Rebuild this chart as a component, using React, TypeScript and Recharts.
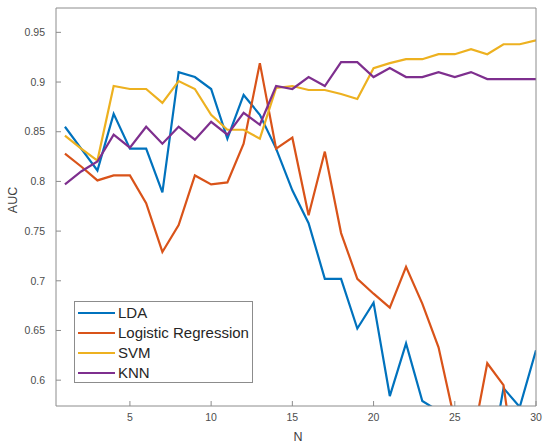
import React from 'react';
import { LineChart, Line, XAxis, YAxis, Legend } from 'recharts';

// N = number of features
const nValues = [1, 2, 3, 4, 5, 6, 7, 8, 9, 10, 11, 12, 13, 14, 15, 16, 17, 18, 19, 20, 21, 22, 23, 24, 25, 26, 27, 28, 29, 30];

const ldaAuc = [0.855, 0.833, 0.811, 0.868, 0.833, 0.833, 0.789, 0.91, 0.905, 0.893, 0.843, 0.887, 0.867, 0.833, 0.791, 0.758, 0.702, 0.702, 0.652, 0.678, 0.584, 0.637, 0.579, 0.569, 0.55, 0.53, 0.5, 0.592, 0.573, 0.63];
const logRegAuc = [0.828, 0.815, 0.801, 0.806, 0.806, 0.778, 0.729, 0.756, 0.806, 0.797, 0.799, 0.838, 0.919, 0.833, 0.844, 0.766, 0.83, 0.748, 0.702, 0.687, 0.673, 0.714, 0.677, 0.633, 0.559, 0.531, 0.617, 0.595, 0.48, 0.5];
const svmAuc = [0.846, 0.833, 0.821, 0.896, 0.893, 0.893, 0.879, 0.901, 0.893, 0.867, 0.852, 0.852, 0.843, 0.894, 0.896, 0.892, 0.892, 0.888, 0.883, 0.914, 0.919, 0.923, 0.923, 0.928, 0.928, 0.933, 0.928, 0.938, 0.938, 0.942];
const knnAuc = [0.797, 0.81, 0.82, 0.847, 0.834, 0.855, 0.838, 0.855, 0.842, 0.86, 0.847, 0.869, 0.857, 0.896, 0.893, 0.905, 0.896, 0.92, 0.92, 0.905, 0.914, 0.905, 0.905, 0.91, 0.905, 0.91, 0.903, 0.903, 0.903, 0.903];

const seriesNames = ['LDA', 'Logistic Regression', 'SVM', 'KNN'];
const xTicks = [5, 10, 15, 20, 25, 30];
const yTicks = [0.6, 0.65, 0.7, 0.75, 0.8, 0.85, 0.9, 0.95];

const data = nValues.map((n, i) => ({
  n,
  lda: ldaAuc[i],
  logreg: logRegAuc[i],
  svm: svmAuc[i],
  knn: knnAuc[i],
}));

const font = '"Liberation Sans", Arial, Helvetica, sans-serif';
const axisColor = '#8c8c8c';
const tickStyle = { fill: '#4d4d4d', fontSize: 10.5, fontFamily: font };

function LegendBox({ payload }: any) {
  // keep plotting order, not alphabetical
  const items = [...(payload || [])].sort(
    (a: any, b: any) => seriesNames.indexOf(a.value) - seriesNames.indexOf(b.value)
  );
  return (
    <div
      style={{
        border: '1px solid #8c8c8c',
        background: '#fff',
        width: 179,
        height: 82,
        boxSizing: 'border-box',
        paddingTop: 1,
        fontFamily: font,
      }}
    >
      {items.map((entry: any) => (
        <div key={entry.value} style={{ display: 'flex', alignItems: 'center', height: 20 }}>
          <span style={{ display: 'inline-block', width: 37, height: 2, background: entry.color, marginLeft: 3, marginRight: 3 }} />
          <span style={{ fontSize: 15, color: '#262626', lineHeight: '20px' }}>{entry.value}</span>
        </div>
      ))}
    </div>
  );
}

const yTitle = ({ viewBox }: any) => {
  const cx = viewBox.x + 13;
  const cy = viewBox.y + viewBox.height / 2 - 7;
  return (
    <text x={cx} y={cy} transform={`rotate(-90 ${cx} ${cy})`} textAnchor="middle" dominantBaseline="central" fill="#404040" fontSize={12.5} fontFamily={font}>
      AUC
    </text>
  );
};

const xTitle = ({ viewBox }: any) => (
  <text x={viewBox.x + viewBox.width / 2 + 2} y={437} textAnchor="middle" dominantBaseline="central" fill="#404040" fontSize={12.5} fontFamily={font}>
    N
  </text>
);

export default function App() {
  return (
    <div style={{ position: 'absolute', left: 0, top: 0, background: '#fff' }}>
      <LineChart width={544} height={443} data={data} margin={{ top: 7, right: 7, bottom: 0, left: 0 }}>
        <XAxis
          dataKey="n"
          type="number"
          domain={[0.45, 30]}
          ticks={xTicks}
          allowDataOverflow
          height={37}
          stroke={axisColor}
          tick={tickStyle}
          tickSize={-5}
          tickMargin={13}
          label={{ content: xTitle }}
        />
        <XAxis
          xAxisId="top"
          dataKey="n"
          type="number"
          orientation="top"
          domain={[0.45, 30]}
          ticks={xTicks}
          allowDataOverflow
          height={1}
          stroke={axisColor}
          tick={false}
          tickSize={-5}
        />
        <YAxis
          type="number"
          domain={[0.574, 0.9745]}
          ticks={yTicks}
          allowDataOverflow
          width={56}
          stroke={axisColor}
          tick={tickStyle}
          tickSize={-5}
          tickMargin={16}
          label={{ content: yTitle }}
        />
        <YAxis
          yAxisId="right"
          type="number"
          orientation="right"
          domain={[0.574, 0.9745]}
          ticks={yTicks}
          allowDataOverflow
          width={1}
          stroke={axisColor}
          tick={false}
          tickSize={-5}
        />
        <Legend
          layout="vertical"
          align="center"
          verticalAlign="middle"
          content={<LegendBox />}
          wrapperStyle={{ position: 'absolute', left: 74, top: 301, width: 'auto', height: 'auto' }}
        />
        <Line name="LDA" dataKey="lda" stroke="#0072BD" strokeWidth={2.2} dot={false} isAnimationActive={false} />
        <Line name="Logistic Regression" dataKey="logreg" stroke="#D95319" strokeWidth={2.2} dot={false} isAnimationActive={false} />
        <Line name="SVM" dataKey="svm" stroke="#EDB120" strokeWidth={2.2} dot={false} isAnimationActive={false} />
        <Line name="KNN" dataKey="knn" stroke="#7E2F8E" strokeWidth={2.2} dot={false} isAnimationActive={false} />
      </LineChart>
    </div>
  );
}
